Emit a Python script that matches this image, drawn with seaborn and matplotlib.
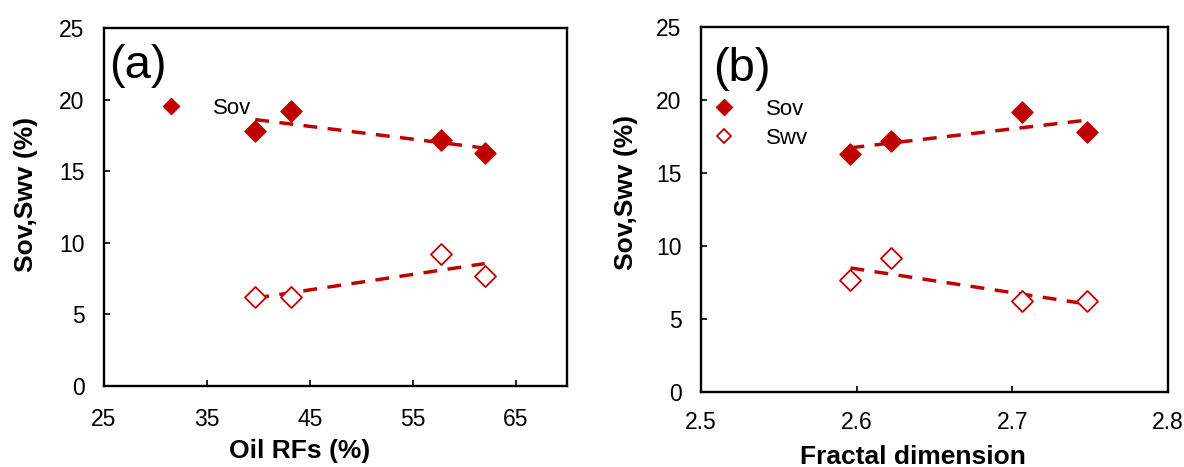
import numpy as np
import pandas as pd
import matplotlib
matplotlib.use("Agg")
import matplotlib.pyplot as plt
from matplotlib.lines import Line2D
import seaborn as sns

# ---- data ----
oil_rf = [62.0, 57.8, 43.2, 39.7]          # Oil RFs (%)
fractal_dim = [2.596, 2.622, 2.706, 2.748]  # Fractal dimension
sov = [16.3, 17.2, 19.2, 17.8]              # Sov (%)
swv = [7.7, 9.2, 6.2, 6.2]                  # Swv (%)
y_ticks = [0, 5, 10, 15, 20, 25]
xa_ticks = [25, 35, 45, 55, 65]
xb_ticks = [2.5, 2.6, 2.7, 2.8]

df = pd.DataFrame({"rf": oil_rf, "fd": fractal_dim, "Sov": sov, "Swv": swv})

sns.set_style("ticks")
plt.rcParams["font.family"] = ["Liberation Sans", "DejaVu Sans"]
plt.rcParams["text.color"] = "black"
plt.rcParams["axes.labelcolor"] = "black"
plt.rcParams["xtick.color"] = "black"
plt.rcParams["ytick.color"] = "black"

RED = "#C00000"
W, H = 1184, 467
fig = plt.figure(figsize=(W / 100, H / 100), dpi=100)

def frac(l, r, t, b):
    return [l / W, 1 - b / H, (r - l) / W, (b - t) / H]

ax_a = fig.add_axes(frac(104, 567, 28, 386))
ax_b = fig.add_axes(frac(701, 1168, 27, 392))

ms_s = 115
line_kws = dict(color=RED, lw=2.5, linestyle=(0, (4, 3.0)))

def draw(ax, xcol):
    sns.regplot(data=df, x=xcol, y="Sov", ax=ax, scatter=False, ci=None,
                truncate=True, line_kws=line_kws)
    sns.regplot(data=df, x=xcol, y="Swv", ax=ax, scatter=False, ci=None,
                truncate=True, line_kws=line_kws)
    sns.scatterplot(data=df, x=xcol, y="Sov", ax=ax, marker="D", s=ms_s,
                    color=RED, edgecolor=RED, linewidth=1, zorder=3)
    sns.scatterplot(data=df, x=xcol, y="Swv", ax=ax, marker="D", s=ms_s,
                    facecolor="white", edgecolor=RED, linewidth=1.3, zorder=3)

draw(ax_a, "rf")
draw(ax_b, "fd")

for ax in (ax_a, ax_b):
    ax.set_ylim(0, 25)
    ax.set_yticks(y_ticks)
    ax.tick_params(direction="in", length=4, width=1.2, labelsize=16.5,
                   colors="black", labelcolor="black")
    ax.tick_params(axis="y", pad=14)
    for sp in ax.spines.values():
        sp.set_linewidth(1.7)
        sp.set_color("black")
        sp.set_visible(True)
    ax.grid(False)

ax_a.set_xlim(25, 70)
ax_a.set_xticks(xa_ticks)
ax_a.tick_params(axis="x", pad=15.5)
ax_b.set_xlim(2.5, 2.8)
ax_b.set_xticks(xb_ticks)
ax_b.set_xticklabels([f"{v:.1f}" for v in xb_ticks])
ax_b.tick_params(axis="x", pad=14)

lab_kw = dict(fontsize=19, fontweight="bold", va="center", color="black")
ax_a.set_xlabel("Oil RFs (%)", **lab_kw)
ax_a.xaxis.set_label_coords(0.423, -0.182)
ax_b.set_xlabel("Fractal dimension", **lab_kw)
ax_b.xaxis.set_label_coords(0.454, -0.178)
ax_a.set_ylabel("Sov,Swv (%)", **lab_kw)
ax_a.yaxis.set_label_coords(-0.168, 0.534)
ax_b.set_ylabel("Sov,Swv (%)", **lab_kw)
ax_b.yaxis.set_label_coords(-0.161, 0.548)

ax_a.text(0.012, 0.895, "(a)", transform=ax_a.transAxes, fontsize=34,
          va="center", ha="left", color="black")
ax_b.text(0.025, 0.886, "(b)", transform=ax_b.transAxes, fontsize=34,
          va="center", ha="left", color="black")

h_sov = Line2D([], [], marker="D", ls="none", ms=7.8, color=RED,
               markeredgecolor=RED)
h_swv = Line2D([], [], marker="D", ls="none", ms=7.2, markerfacecolor="white",
               markeredgecolor=RED, markeredgewidth=1.3)
leg_kw = dict(frameon=False, fontsize=16, handlelength=1.0,
              handletextpad=1.4, borderpad=0, borderaxespad=0,
              labelspacing=0.38, bbox_transform=fig.transFigure,
              loc="center left", labelcolor="black")
ax_a.legend([h_sov], ["Sov"], bbox_to_anchor=(160 / W, 1 - 108 / H), **leg_kw)
ax_b.legend([h_sov, h_swv], ["Sov", "Swv"],
            bbox_to_anchor=(713 / W, 1 - 124 / H), **leg_kw)

fig.savefig("out.png", dpi=100)
